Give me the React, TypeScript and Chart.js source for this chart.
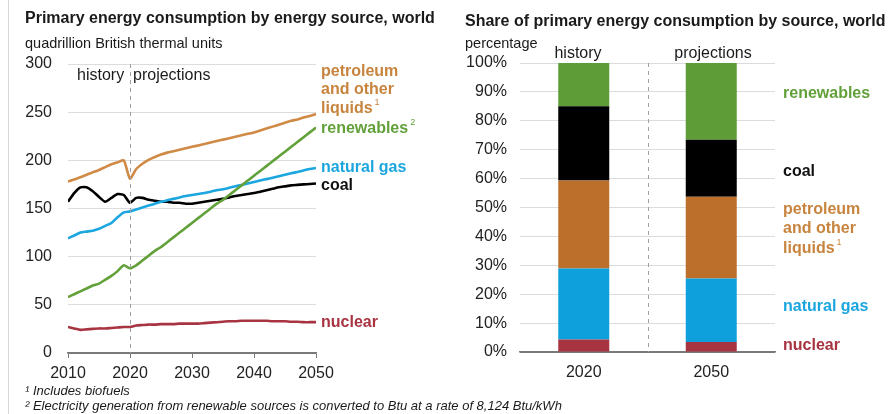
import React, { useEffect, useRef } from "react";
import { Chart, registerables } from "chart.js";

Chart.register(...registerables);

// ---------- Data ----------
const years = [
  2010, 2011, 2012, 2013, 2014, 2015, 2016, 2017, 2018, 2019,
  2020, 2021, 2022, 2023, 2024, 2025, 2026, 2027, 2028, 2029,
  2030, 2031, 2032, 2033, 2034, 2035, 2036, 2037, 2038, 2039,
  2040, 2041, 2042, 2043, 2044, 2045, 2046, 2047, 2048, 2049, 2050,
];

const petroleum = [
  178, 180, 182.5, 185, 187.5, 190, 193, 196, 198, 200,
  181, 191, 196.5, 200.5, 203.5, 206, 208, 209.5, 211, 212.5,
  214, 215.5, 217, 218.5, 220, 221.5, 223, 224.5, 226, 227.5,
  229, 231, 233, 235, 237, 239, 241, 242.5, 244.5, 246, 248,
];

const renewables = [
  58, 61, 64, 67, 70, 72, 76, 80, 85, 91,
  88, 91, 96, 101, 106, 110, 115, 120, 125, 130,
  135, 140, 145, 150, 155, 159, 164, 169, 174, 179,
  184, 189, 194, 199, 204, 209, 214, 219, 224, 229, 234,
];

const naturalGas = [
  119, 122, 125, 126, 127, 129, 132, 135, 141, 146,
  147, 149, 151, 153, 155, 157, 158.5, 160, 161.5, 163,
  164, 165, 166, 167.5, 169, 170, 171.5, 173, 174.5, 176,
  177.5, 179, 180.5, 182, 183.5, 185, 186.5, 188, 189.5, 191, 192,
];

const coal = [
  157, 166, 172, 172, 168, 162, 157, 161, 165, 164,
  156, 161, 161, 159, 158, 157, 157, 156, 156, 155,
  155, 156, 157, 158, 159, 160, 161.5, 163, 164, 165,
  166, 167.5, 169, 170.5, 172, 173, 174, 174.5, 175, 175.5, 176,
];

const nuclear = [
  27, 25.5, 24, 24.5, 25, 25.5, 25.5, 26, 26.5, 27,
  27, 28.5, 29, 29.5, 29.5, 30, 30, 30, 30.5, 30.5,
  30.5, 30.5, 31, 31.5, 32, 32.5, 33, 33, 33.5, 33.5,
  33.5, 33.5, 33.5, 33, 33, 33, 32.5, 32.5, 32, 32, 32,
];

const shareCategories = ["2020", "2050"];
const shareNuclear = [4.3, 3.5];
const shareNaturalGas = [24.6, 21.9];
const sharePetroleum = [30.4, 28.3];
const shareCoal = [25.7, 19.7];
const shareRenewables = [15.0, 26.6];

// ---------- Styles ----------
const FONT = "'Liberation Sans', Arial, Helvetica, sans-serif";
const C_PET_LINE = "#D08A45";
const C_PET_BAR = "#BC6F2B";
const C_PET_TEXT = "#C8843E";
const C_REN = "#62A03A";
const C_REN_BAR = "#5E9C37";
const C_GAS = "#1BA6E0";
const C_GAS_BAR = "#0EA0DC";
const C_COAL = "#000000";
const C_NUC = "#A83442";
const GRID = "#DCDCDC";
const AXIS = "#7A7A7A";

const toPoints = (vals: number[]) => vals.map((v, i) => ({ x: years[i], y: v }));

const dashLinePlugin = (mode: "line" | "bar") => ({
  id: "dashLine" + mode,
  afterDatasetsDraw(chart: any) {
    const { ctx, chartArea, scales } = chart;
    let x: number;
    if (mode === "line") {
      x = scales.x.getPixelForValue(2020);
    } else {
      x = (scales.x.getPixelForValue(0) + scales.x.getPixelForValue(1)) / 2;
    }
    ctx.save();
    ctx.strokeStyle = "#A0A0A0";
    ctx.lineWidth = 1;
    ctx.setLineDash([4, 4]);
    ctx.beginPath();
    ctx.moveTo(Math.round(x) + 0.5, chartArea.top);
    ctx.lineTo(Math.round(x) + 0.5, chartArea.bottom);
    ctx.stroke();
    ctx.restore();
  },
});

function LineChart() {
  const ref = useRef<HTMLCanvasElement | null>(null);
  useEffect(() => {
    if (!ref.current) return;
    const chart = new Chart(ref.current, {
      type: "line",
      data: {
        datasets: [
          { label: "nuclear", data: toPoints(nuclear), borderColor: C_NUC },
          { label: "renewables", data: toPoints(renewables), borderColor: C_REN },
          { label: "natural gas", data: toPoints(naturalGas), borderColor: C_GAS },
          { label: "petroleum", data: toPoints(petroleum), borderColor: C_PET_LINE },
          { label: "coal", data: toPoints(coal), borderColor: C_COAL },
        ],
      },
      options: {
        animation: false,
        responsive: false,
        events: [],
        layout: { padding: { left: 0, right: 134, top: 64, bottom: 31 } },
        plugins: { legend: { display: false }, tooltip: { enabled: false } },
        elements: {
          point: { radius: 0 },
          line: { borderWidth: 2.6, tension: 0.2, fill: false },
        },
        scales: {
          x: {
            type: "linear",
            min: 2010,
            max: 2050,
            ticks: {
              stepSize: 10,
              callback: (v: any) => String(v),
              color: "#222",
              font: { size: 16, family: FONT },
              padding: 6,
              maxRotation: 0,
              autoSkip: false,
            },
            grid: { display: true, drawOnChartArea: false, drawTicks: true, tickLength: 5, color: AXIS },
            border: { display: true, color: AXIS, width: 1.5 },
            afterFit: (s: any) => {
              s.height = 30;
            },
          },
          y: {
            min: 0,
            max: 300,
            ticks: { stepSize: 50, color: "#222", font: { size: 16, family: FONT }, padding: 16 },
            grid: {
              drawTicks: false,
              color: (c: any) => (c.tick && c.tick.value === 0 ? AXIS : GRID),
            },
            border: { display: false },
            afterFit: (s: any) => {
              s.width = 68;
            },
          },
        },
      },
      plugins: [dashLinePlugin("line")],
    } as any);
    return () => chart.destroy();
  }, []);
  return (
    <canvas
      ref={ref}
      width={450}
      height={414}
      style={{ position: "absolute", left: 0, top: 0, width: 450, height: 414 }}
    />
  );
}

function BarChart() {
  const ref = useRef<HTMLCanvasElement | null>(null);
  useEffect(() => {
    if (!ref.current) return;
    const common = { barPercentage: 0.4, categoryPercentage: 1.0, borderWidth: 0 };
    const chart = new Chart(ref.current, {
      type: "bar",
      data: {
        labels: shareCategories,
        datasets: [
          { label: "nuclear", data: shareNuclear, backgroundColor: C_NUC, ...common },
          { label: "natural gas", data: shareNaturalGas, backgroundColor: C_GAS_BAR, ...common },
          { label: "petroleum", data: sharePetroleum, backgroundColor: C_PET_BAR, ...common },
          { label: "coal", data: shareCoal, backgroundColor: C_COAL, ...common },
          { label: "renewables", data: shareRenewables, backgroundColor: C_REN_BAR, ...common },
        ],
      },
      options: {
        animation: false,
        responsive: false,
        events: [],
        layout: { padding: { left: 0, right: 114, top: 63, bottom: 32 } },
        plugins: { legend: { display: false }, tooltip: { enabled: false } },
        scales: {
          x: {
            stacked: true,
            ticks: { color: "#222", font: { size: 16, family: FONT }, padding: 11, maxRotation: 0 },
            grid: { display: false, drawTicks: false },
            border: { display: true, color: AXIS, width: 1.5 },
            afterFit: (s: any) => {
              s.height = 30;
            },
          },
          y: {
            stacked: true,
            min: 0,
            max: 100,
            ticks: {
              stepSize: 10,
              callback: (v: any) => v + "%",
              color: "#222",
              font: { size: 16, family: FONT },
              padding: 13,
            },
            grid: {
              drawTicks: false,
              color: (c: any) => (c.tick && c.tick.value === 0 ? AXIS : GRID),
            },
            border: { display: false },
            afterFit: (s: any) => {
              s.width = 70;
            },
          },
        },
      },
      plugins: [dashLinePlugin("bar")],
    } as any);
    return () => chart.destroy();
  }, []);
  return (
    <canvas
      ref={ref}
      width={439}
      height={414}
      style={{ position: "absolute", left: 450, top: 0, width: 439, height: 414 }}
    />
  );
}

type TProps = {
  x: number;
  cy: number;
  size?: number;
  bold?: boolean;
  italic?: boolean;
  color?: string;
  center?: boolean;
  children: React.ReactNode;
};

function T({ x, cy, size = 16, bold, italic, color = "#1a1a1a", center, children }: TProps) {
  return (
    <div
      style={{
        position: "absolute",
        left: x,
        top: cy,
        transform: center ? "translate(-50%, -50%)" : "translateY(-50%)",
        fontFamily: FONT,
        fontSize: size,
        fontWeight: bold ? 700 : 400,
        fontStyle: italic ? "italic" : "normal",
        color,
        whiteSpace: "nowrap",
        lineHeight: 1.15,
      }}
    >
      {children}
    </div>
  );
}

const Sup = ({ children }: { children: React.ReactNode }) => (
  <span style={{ fontSize: 9, fontWeight: 400, verticalAlign: "8px", marginLeft: 2 }}>{children}</span>
);

export default function App() {
  return (
    <div
      style={{
        position: "fixed",
        left: 0,
        top: 0,
        width: 889,
        height: 414,
        background: "#fff",
        overflow: "hidden",
      }}
    >
      <div style={{ position: "absolute", left: 8, top: 0, width: 1, height: 414, background: "#D6D6D6" }} />
      <LineChart />
      <BarChart />

      {/* Left chart texts */}
      <T x={25} cy={18} bold>Primary energy consumption by energy source, world</T>
      <T x={25} cy={43} size={14.5}>quadrillion British thermal units</T>
      <T x={77} cy={75}>history</T>
      <T x={133} cy={75}>projections</T>

      <T x={321} cy={71} bold color={C_PET_TEXT}>petroleum</T>
      <T x={321} cy={89} bold color={C_PET_TEXT}>and other</T>
      <T x={321} cy={107} bold color={C_PET_TEXT}>
        liquids<Sup>1</Sup>
      </T>
      <T x={321} cy={127} bold color={C_REN}>
        renewables<Sup>2</Sup>
      </T>
      <T x={321} cy={167} bold color={C_GAS}>natural gas</T>
      <T x={321} cy={185} bold color="#111">coal</T>
      <T x={321} cy={322} bold color={C_NUC}>nuclear</T>

      <T x={25} cy={391} size={13} italic>¹ Includes biofuels</T>
      <T x={25} cy={406} size={13} italic>
        ² Electricity generation from renewable sources is converted to Btu at a rate of 8,124 Btu/kWh
      </T>

      {/* Right chart texts */}
      <T x={465} cy={21} bold>Share of primary energy consumption by source, world</T>
      <T x={465} cy={43} size={14.5}>percentage</T>
      <T x={578} cy={53} center>history</T>
      <T x={713} cy={53} center>projections</T>

      <T x={783} cy={93} bold color={C_REN}>renewables</T>
      <T x={783} cy={171} bold color="#111">coal</T>
      <T x={783} cy={209} bold color={C_PET_TEXT}>petroleum</T>
      <T x={783} cy={228} bold color={C_PET_TEXT}>and other</T>
      <T x={783} cy={247} bold color={C_PET_TEXT}>
        liquids<Sup>1</Sup>
      </T>
      <T x={783} cy={306} bold color={C_GAS}>natural gas</T>
      <T x={783} cy={345} bold color={C_NUC}>nuclear</T>
    </div>
  );
}
